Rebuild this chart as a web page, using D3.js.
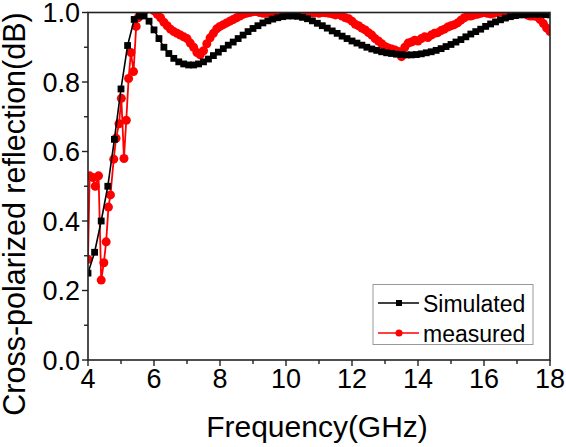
<!DOCTYPE html>
<html><head><meta charset="utf-8">
<script src="https://cdn.jsdelivr.net/npm/d3@7"></script>
<style>body{margin:0;background:#fff}svg{display:block}text{font-family:"Liberation Sans",Arial,sans-serif;fill:#000}</style>
</head><body><svg id="c" width="566" height="447"></svg>
<script>
const simFreq = [4.0,4.2,4.4,4.6,4.8,5.0,5.2,5.4,
5.55,5.70,5.85,6.00,6.15,6.30,6.45,6.60,6.75,6.90,7.05,7.20,7.35,7.50,7.65,7.80,7.95,
8.10,8.25,8.40,8.55,8.70,8.85,9.00,9.15,9.30,9.45,9.60,9.75,9.90,10.05,10.20,10.35,10.50,
10.65,10.80,10.95,11.10,11.25,11.40,11.55,11.70,11.85,12.00,12.15,12.30,12.45,12.60,12.75,
12.90,13.05,13.20,13.35,13.50,13.65,13.80,13.95,14.10,14.25,14.40,14.55,14.70,14.85,15.00,
15.15,15.30,15.45,15.60,15.75,15.90,16.05,16.20,16.35,16.50,16.65,16.80,16.95,17.10,17.25,
17.40,17.55,17.70,17.85,18.00];
const simVal = [0.25,0.31,0.40,0.50,0.635,0.78,0.905,0.98,
0.99,0.99,0.975,0.95,0.925,0.90,0.882,0.868,0.858,0.852,0.849,0.849,0.852,0.858,0.866,0.876,0.886,
0.896,0.906,0.915,0.925,0.935,0.945,0.954,0.962,0.970,0.976,0.981,0.985,0.988,0.990,0.990,0.989,0.986,
0.982,0.976,0.969,0.962,0.955,0.947,0.940,0.932,0.925,0.918,0.912,0.906,0.900,0.895,0.891,
0.887,0.884,0.882,0.880,0.879,0.878,0.878,0.879,0.881,0.884,0.887,0.891,0.896,0.902,0.908,
0.915,0.922,0.930,0.938,0.945,0.952,0.960,0.967,0.973,0.979,0.984,0.988,0.991,0.993,0.994,
0.995,0.995,0.995,0.994,0.993];

const measFreq = [4.00,4.05,4.15,4.22,4.32,4.40,4.48,4.55,4.62,4.68,4.78,4.85,4.94,5.01,5.09,5.16,5.23,5.30,5.38,5.46,5.52,
5.6,5.7,5.8,5.9,6.0,6.1,6.2,6.3,6.4,6.5,6.6,6.7,6.8,6.9,7.0,7.1,7.2,7.3,7.4,7.5,7.6,7.7,7.8,7.9,
8.0,8.1,8.2,8.3,8.4,8.5,8.6,8.7,8.8,8.9,9.0,9.1,9.2,9.3,9.4,9.5,9.6,9.7,9.8,9.9,
10.0,10.1,10.2,10.3,10.4,10.5,10.6,10.7,10.8,10.9,11.0,11.1,11.2,11.3,11.4,11.5,11.6,11.7,11.8,11.9,
12.0,12.1,12.2,12.3,12.4,12.5,12.6,12.7,12.8,12.9,13.0,13.1,13.2,13.3,13.4,13.5,13.6,13.7,13.8,13.9,
14.0,14.1,14.2,14.3,14.4,14.5,14.6,14.7,14.8,14.9,15.0,15.1,15.2,15.3,15.4,15.5,15.6,15.7,15.8,15.9,
16.0,16.1,16.2,16.3,16.4,16.5,16.6,16.7,16.8,16.9,17.0,17.1,17.2,17.3,17.4,17.5,17.6,17.7,17.8,17.9,18.0];
const measVal = [0.29,0.53,0.525,0.50,0.53,0.23,0.28,0.34,0.44,0.475,0.578,0.638,0.68,0.753,0.58,0.69,0.81,0.885,0.83,0.96,0.985,
1.0,1.005,1.01,1.01,1.005,0.995,0.985,0.972,0.962,0.952,0.945,0.94,0.935,0.93,0.925,0.912,0.90,0.885,0.878,0.89,0.91,0.927,0.94,0.953,
0.96,0.965,0.97,0.975,0.98,0.985,0.99,0.995,0.998,1.0,1.002,1.003,1.0,0.998,1.0,0.998,1.0,1.002,1.003,1.0,
1.0,1.002,1.003,1.002,1.0,1.0,1.002,1.0,0.999,1.0,0.998,1.0,0.999,0.998,0.996,0.993,0.995,0.99,0.985,0.982,
0.975,0.966,0.962,0.955,0.95,0.942,0.935,0.925,0.918,0.91,0.902,0.898,0.895,0.892,0.888,0.873,0.90,0.912,0.915,0.92,
0.918,0.925,0.93,0.928,0.935,0.94,0.942,0.948,0.952,0.958,0.962,0.965,0.97,0.978,0.985,0.99,0.99,0.993,0.995,0.998,
1.0,0.998,0.996,0.998,1.0,1.002,1.0,1.0,0.998,0.997,0.998,1.0,0.997,0.993,0.99,0.99,0.988,0.98,0.968,0.955,0.945];

const xTicks = [4,6,8,10,12,14,16,18];
const yTicks = [0.0,0.2,0.4,0.6,0.8,1.0];
const seriesNames = ["Simulated","measured"];
const seriesColors = ["#000000","#ff0000"];

const L=88,R=550,T=12.5,B=360;
const svg=d3.select("#c");
const x=d3.scaleLinear().domain([4,18]).range([L,R]);
const y=d3.scaleLinear().domain([0,1]).range([B,T]);

svg.append("defs").append("clipPath").attr("id","clip").append("rect")
  .attr("x",L).attr("y",T).attr("width",R-L).attr("height",B-T);

const g=svg.append("g").attr("clip-path","url(#clip)");
const line=d3.line().x(d=>x(d[0])).y(d=>y(d[1]));
const sim=simFreq.map((f,i)=>[f,simVal[i]]);
const meas=measFreq.map((f,i)=>[f,measVal[i]]);

g.append("path").datum(meas).attr("d",line).attr("fill","none").attr("stroke",seriesColors[1]).attr("stroke-width",1.8);
g.selectAll("circle.m").data(meas).enter().append("circle").attr("class","m")
  .attr("cx",d=>x(d[0])).attr("cy",d=>y(d[1])).attr("r",4.5).attr("fill",seriesColors[1]);
g.append("path").datum(sim).attr("d",line).attr("fill","none").attr("stroke",seriesColors[0]).attr("stroke-width",1.6);
g.selectAll("rect.s").data(sim).enter().append("rect").attr("class","s")
  .attr("x",d=>x(d[0])-3.4).attr("y",d=>y(d[1])-3.4).attr("width",6.8).attr("height",6.8).attr("fill",seriesColors[0]);

// frame
svg.append("rect").attr("x",L).attr("y",T).attr("width",R-L).attr("height",B-T)
  .attr("fill","none").attr("stroke","#222").attr("stroke-width",1.6);

// x axis ticks (major + minor)
const xa=svg.append("g").attr("transform",`translate(0,${B})`)
  .call(d3.axisBottom(x).tickValues(d3.range(4,18.01,1)).tickSize(0).tickFormat(""));
xa.select(".domain").remove();
xa.selectAll(".tick line").remove();
d3.range(4,18.01,1).forEach(v=>{
  const major=xTicks.includes(v);
  svg.append("line").attr("x1",x(v)).attr("x2",x(v)).attr("y1",B).attr("y2",B+(major?6:4))
    .attr("stroke","#222").attr("stroke-width",1.4);
});
svg.selectAll("text.xl").data(xTicks).enter().append("text").attr("class","xl")
  .attr("x",d=>x(d)).attr("y",388).attr("text-anchor","middle").attr("font-size",27).text(d=>d);

// y axis ticks
d3.range(0,11,1).forEach(k=>{
  const v=k/10, major=(k%2===0);
  svg.append("line").attr("x1",L).attr("x2",L-(major?6:4)).attr("y1",y(v)).attr("y2",y(v))
    .attr("stroke","#222").attr("stroke-width",1.4);
});
svg.selectAll("text.yl").data(yTicks).enter().append("text").attr("class","yl")
  .attr("x",80).attr("y",d=>y(d)+9.8).attr("text-anchor","end").attr("font-size",27).text(d=>d.toFixed(1));

// titles
svg.append("text").attr("x",317).attr("y",437).attr("text-anchor","middle").attr("font-size",30).text("Frequency(GHz)");
svg.append("text").attr("transform","translate(25,214) rotate(-90)").attr("text-anchor","middle").attr("font-size",30.5).text("Cross-polarized reflection(dB)");

// legend
const lg=svg.append("g");
lg.append("rect").attr("x",373).attr("y",284.5).attr("width",160).attr("height",60)
  .attr("fill","#fff").attr("stroke","#999").attr("stroke-width",1);
const rows=[303,333];
rows.forEach((ry,i)=>{
  lg.append("line").attr("x1",378).attr("x2",419).attr("y1",ry).attr("y2",ry).attr("stroke",seriesColors[i]).attr("stroke-width",1.6);
  if(i===0) lg.append("rect").attr("x",396).attr("y",ry-3).attr("width",6).attr("height",6).attr("fill",seriesColors[i]);
  else lg.append("circle").attr("cx",399).attr("cy",ry).attr("r",3.5).attr("fill",seriesColors[i]);
  lg.append("text").attr("x",423).attr("y",ry+8.5).attr("font-size",23).text(seriesNames[i]);
});
</script></body></html>
